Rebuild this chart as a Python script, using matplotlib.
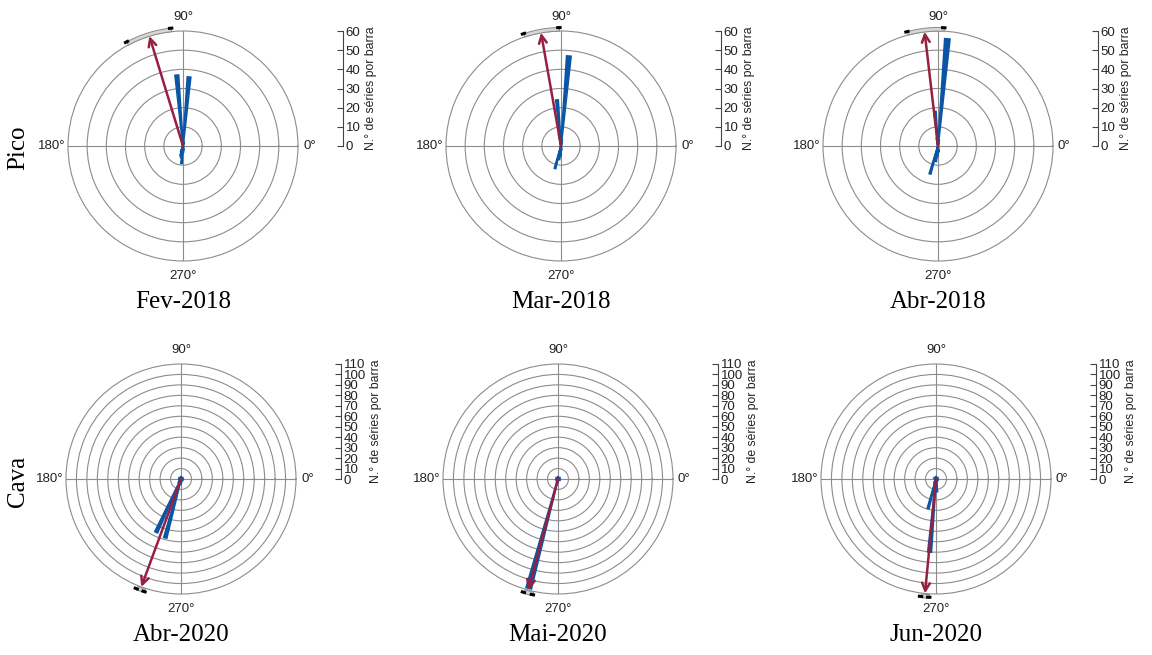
import numpy as np
import matplotlib
matplotlib.use("Agg")
import matplotlib.pyplot as plt

plt.rcParams["font.family"] = ["Liberation Sans", "DejaVu Sans"]

# --- Rose histograms: bar directions (deg) and counts per month ---
months = ["Fev-2018", "Mar-2018", "Abr-2018", "Abr-2020", "Mai-2020", "Jun-2020"]
sites = ["Pico", "Cava"]
rmax_by_site = [60, 110]

bar_angles = [
    [85, 95, 265, 260, 255, 250, 272, 278, 102, 78],
    [85, 95, 255, 262, 268, 276, 100, 80],
    [85, 95, 254, 262, 268, 276, 100, 80],
    [245, 255, 235, 265, 275, 90, 30, 150, 200, 330],
    [255, 250, 260, 270, 90, 30, 150, 210, 330],
    [265, 255, 275, 245, 285, 90, 30, 150, 330],
]
bar_counts = [
    [36, 37, 9, 6, 5, 3, 3, 2, 2, 2],
    [47, 24, 12, 7, 5, 2, 6, 3],
    [56, 18, 15, 8, 5, 3, 4, 3],
    [56, 58, 4, 5, 3, 2, 2, 2, 2, 2],
    [108, 3, 4, 2, 2, 2, 2, 2, 2],
    [70, 29, 12, 4, 3, 2, 2, 2, 2],
]

# mean direction and its confidence interval (deg)
mean_dir = [107.0, 100.0, 96.7, 249.8, 255.0, 264.5]
ci_low = [96.0, 91.0, 87.2, 247.8, 253.0, 262.5]
ci_high = [118.5, 108.5, 105.2, 251.8, 257.5, 266.5]

theta_labels = ["0°", "90°", "180°", "270°"]

BLUE = "#0a56a5"
RED = "#962040"
GRID = "#8c8c8c"
TXT = "#222222"

W, H = 1152, 655
fig = plt.figure(figsize=(W / 100, H / 100), dpi=100)
fig.patch.set_facecolor("white")

R = 115
centers_x = [[183, 561, 938], [181, 558, 936]]
centers_y = [146, 479]
title_y = [302, 635]


def px(x, y):
    return x / W, 1 - y / H


for i, month in enumerate(months):
    row, col = divmod(i, 3)
    cx, cy = centers_x[row][col], centers_y[row]
    rmax = rmax_by_site[row]

    ax = fig.add_axes([(cx - R) / W, (H - cy - R) / H, 2 * R / W, 2 * R / H],
                      projection="polar")
    ax.set_ylim(0, rmax)
    ax.set_rgrids(list(range(10, rmax, 10)), labels=[])
    ax.set_thetagrids([0, 90, 180, 270], labels=[""] * 4)
    ax.grid(True, color=GRID, lw=0.8)
    ax.spines["polar"].set_color(GRID)
    ax.spines["polar"].set_linewidth(0.8)

    ax.bar(np.deg2rad(bar_angles[i]), bar_counts[i], width=np.deg2rad(2.6),
           color=BLUE, edgecolor=BLUE, lw=1.5, zorder=3)

    # confidence band on the outer ring with black end caps
    th = np.deg2rad(np.linspace(ci_low[i], ci_high[i], 60))
    ax.fill_between(th, rmax * 1.003, rmax * 1.035, facecolor="#d6d6d6",
                    edgecolor="#8a8a8a", lw=0.7, clip_on=False, zorder=5)
    for end in (ci_low[i], ci_high[i]):
        ax.plot(np.deg2rad([end - 1.3, end + 1.3]), [rmax * 1.03] * 2,
                color="black", lw=2.2, solid_capstyle="butt",
                clip_on=False, zorder=6)

    ax.annotate("", xy=(np.deg2rad(mean_dir[i]), rmax), xytext=(0, 0),
                arrowprops=dict(arrowstyle="->", color=RED, lw=1.8,
                                mutation_scale=14, shrinkA=0, shrinkB=0),
                annotation_clip=False, zorder=7)

    # angle labels around the rim
    lab_kw = dict(fontsize=9.5, color=TXT)
    fig.text(*px(cx + R + 5, cy), theta_labels[0], ha="left", va="center", **lab_kw)
    fig.text(*px(cx, cy - R - 8), theta_labels[1], ha="center", va="bottom", **lab_kw)
    fig.text(*px(cx - R - 3, cy), theta_labels[2], ha="right", va="center", **lab_kw)
    fig.text(*px(cx, cy + R + 9), theta_labels[3], ha="center", va="top", **lab_kw)

    # separate radial scale to the right of each rose
    sx = cx + 160
    rax = fig.add_axes([(sx - 1) / W, (H - cy) / H, 1 / W, R / H])
    rax.set_ylim(0, rmax)
    rax.set_yticks(list(range(0, rmax + 1, 10)))
    rax.yaxis.tick_right()
    rax.yaxis.set_label_position("right")
    rax.tick_params(axis="y", direction="in", length=4, pad=2,
                    labelsize=9.5, color="#444444", labelcolor=TXT)
    rax.set_xticks([])
    for side in ("left", "top", "bottom"):
        rax.spines[side].set_visible(False)
    rax.spines["right"].set_color("#444444")
    rax.spines["right"].set_linewidth(0.8)
    rax.patch.set_visible(False)
    rax.set_ylabel("N.° de séries por barra", fontsize=8.8, color=TXT,
                   labelpad=3)

    fig.text(*px(cx, title_y[row]), month, ha="center", va="center",
             family="Liberation Serif", fontsize=18)

for row, site in enumerate(sites):
    fig.text(*px(18, centers_y[row] + 2), site, rotation=90,
             ha="center", va="center", family="Liberation Serif", fontsize=18)

fig.savefig("out.png", dpi=100, facecolor="white")
